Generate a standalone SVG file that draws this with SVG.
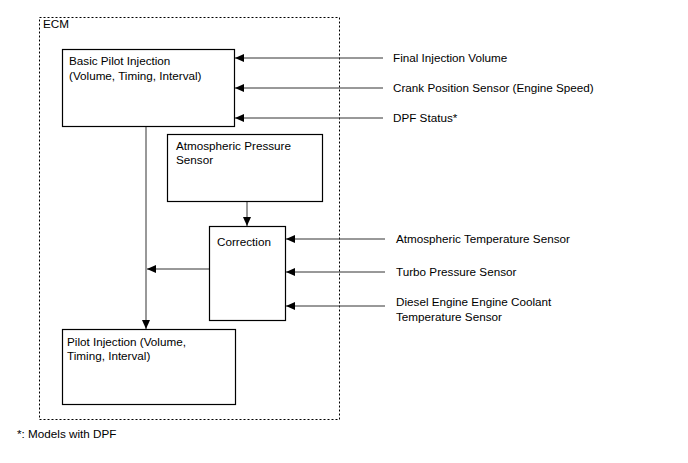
<svg xmlns="http://www.w3.org/2000/svg" width="688" height="463" viewBox="0 0 688 463">
<style>
text{font-family:"Liberation Sans",Arial,sans-serif;font-size:11.7px;fill:#000}
.box{fill:#fff;stroke:#000;stroke-width:1.2}
.ln{stroke:#333;stroke-width:1;fill:none;marker-end:url(#ah)}
</style>
<defs>
<marker id="ah" markerWidth="9" markerHeight="8" refX="9" refY="4" orient="auto" markerUnits="userSpaceOnUse">
<path d="M0,0 L9,4 L0,8 Z" fill="#000"/>
</marker>
</defs>
<rect x="0" y="0" width="688" height="463" fill="#fff"/>
<g id="ecm">
<rect x="39.5" y="17.5" width="300" height="402" fill="none" stroke="#000" stroke-width="1" stroke-dasharray="2,2"/>
<text x="43" y="28">ECM</text>
</g>
<g id="connectors">
<line class="ln" x1="383" y1="58" x2="235" y2="58"/>
<line class="ln" x1="383" y1="88" x2="235" y2="88"/>
<line class="ln" x1="383" y1="118" x2="235" y2="118"/>
<line class="ln" x1="146" y1="126" x2="146" y2="329"/>
<line class="ln" x1="247" y1="201" x2="247" y2="226"/>
<line class="ln" x1="209" y1="269" x2="147" y2="269"/>
<line class="ln" x1="385" y1="239" x2="286" y2="239"/>
<line class="ln" x1="385" y1="272" x2="286" y2="272"/>
<line class="ln" x1="385" y1="306" x2="286" y2="306"/>
</g>
<g id="basic">
<rect class="box" x="62.5" y="49.5" width="172" height="77"/>
<text x="69" y="65">Basic Pilot Injection</text>
<text x="69" y="80">(Volume, Timing, Interval)</text>
</g>
<g id="atm">
<rect class="box" x="167.5" y="134.5" width="155" height="67"/>
<text x="176" y="150">Atmospheric Pressure</text>
<text x="176" y="164">Sensor</text>
</g>
<g id="correction">
<rect class="box" x="209.5" y="226.5" width="76" height="94"/>
<text x="217" y="246">Correction</text>
</g>
<g id="pilot">
<rect class="box" x="62.5" y="329.5" width="173" height="75"/>
<text x="67" y="346">Pilot Injection (Volume,</text>
<text x="67" y="360">Timing, Interval)</text>
</g>
<g id="labels">
<text x="393" y="62">Final Injection Volume</text>
<text x="393" y="92">Crank Position Sensor (Engine Speed)</text>
<text x="393" y="122">DPF Status*</text>
<text x="396" y="243">Atmospheric Temperature Sensor</text>
<text x="396" y="276">Turbo Pressure Sensor</text>
<text x="396" y="306">Diesel Engine Engine Coolant</text>
<text x="396" y="321">Temperature Sensor</text>
</g>
<g id="footnote">
<text x="17" y="438">*: Models with DPF</text>
</g>
</svg>
